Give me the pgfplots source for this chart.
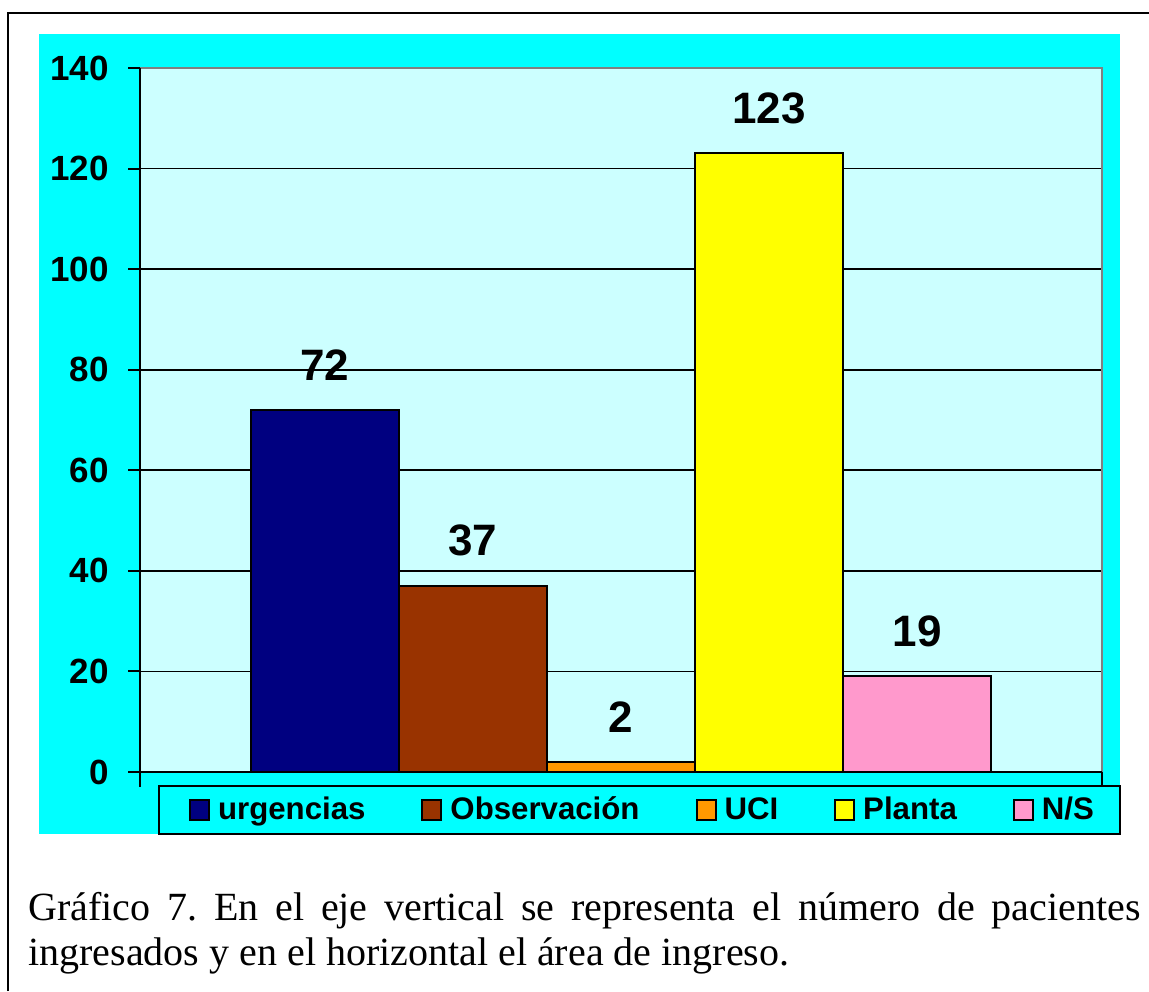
\documentclass[border=0pt]{standalone}
\usepackage{fontspec}
\setmainfont{Liberation Serif}
\newfontfamily\arial{Liberation Sans}
\usepackage{pgfplots}
\pgfplotsset{compat=1.18}
\definecolor{bgcyan}{RGB}{0,255,255}
\definecolor{plotbg}{RGB}{204,255,255}
\definecolor{urg}{RGB}{0,0,128}
\definecolor{obs}{RGB}{153,51,0}
\definecolor{uci}{RGB}{255,153,0}
\definecolor{planta}{RGB}{255,255,0}
\definecolor{ns}{RGB}{255,153,204}
\definecolor{edgegray}{RGB}{128,128,128}

\pgfplotsset{
  mybar/.style={draw=black, line width=1pt, bar shift=0pt,
    legend image code/.code={\draw[##1, line width=1pt] (0pt,-5pt) rectangle (9.5pt,5pt);}},
}

\begin{document}
\begin{tikzpicture}
% page is 1149 x 991 px, 1 px = 0.5pt, y measured from the bottom
\path[use as bounding box] (0pt,0pt) rectangle (574.5pt,495.5pt);
\draw[line width=1pt] (4pt,0pt) -- (4pt,489pt) -- (574.5pt,489pt);
\fill[bgcyan] (19.5pt,78.5pt) rectangle (560pt,478.5pt);
\draw[line width=1pt, fill=bgcyan] (79.5pt,78.5pt) rectangle (560pt,102.5pt);

\begin{axis}[
  at={(70pt,109.5pt)}, anchor=south west,
  scale only axis, width=481pt, height=352pt,
  xmin=-3.25, xmax=3.25, ymin=0, ymax=140,
  ybar, bar width=1,
  xtick=\empty,
  ytick={0,20,...,140},
  ytick pos=left, tick align=outside, major tick length=6pt,
  ytick style={black, line width=1pt},
  ymajorgrids, major grid style={black, line width=0.8pt},
  axis line style={draw=none},
  axis background/.style={fill=plotbg},
  tick label style={font=\arial\fontsize{17.5}{20}\selectfont\bfseries},
  yticklabel style={anchor=east, inner sep=0pt, xshift=-9.5pt},
  /pgf/number format/assume math mode=true,
  nodes near coords,
  nodes near coords style={font=\arial\fontsize{22}{26}\selectfont\bfseries,
                           text=black, yshift=11pt},
  legend columns=5,
  legend style={at={(0.5213,-0.054)}, anchor=center, draw=none, fill=none,
    font=\arial\fontsize{15.6}{19}\selectfont\bfseries, inner sep=0pt,
    nodes={inner sep=0pt},
    /tikz/every odd column/.append style={column sep=4pt},
    /tikz/every even column/.append style={column sep=28pt}},
  clip=false,
]
  \addplot[mybar, fill=urg] coordinates {(-2,72)};
  \addlegendentry{urgencias}
  \addplot[mybar, fill=obs] coordinates {(-1,37)};
  \addlegendentry{Observación}
  \addplot[mybar, fill=uci] coordinates {(0,2)};
  \addlegendentry{UCI}
  \addplot[mybar, fill=planta] coordinates {(1,123)};
  \addlegendentry{Planta}
  \addplot[mybar, fill=ns] coordinates {(2,19)};
  \addlegendentry{N/S}

  \draw[edgegray, line width=1pt] (rel axis cs:0,1) -- (rel axis cs:1,1) -- (rel axis cs:1,0);
  \draw[black, line width=1pt] (rel axis cs:0,1) -- (rel axis cs:0,0) -- (rel axis cs:1,0);
  \draw[black, line width=1pt] (rel axis cs:0,0) -- ++(0pt,-7.5pt);
  \draw[black, line width=1pt] (rel axis cs:1,0) -- ++(0pt,-7.5pt);
\end{axis}

\node[anchor=base west, inner sep=0pt, text width=556pt, align=justify,
      font=\fontsize{20}{22.5}\selectfont] at (14pt,35.5pt)
  {\frenchspacing\tolerance=10000 Gráfico 7. En el eje vertical se representa el número de pacientes \mbox{ingresados} y en el horizontal el área de ingreso.};
\end{tikzpicture}
\end{document}
